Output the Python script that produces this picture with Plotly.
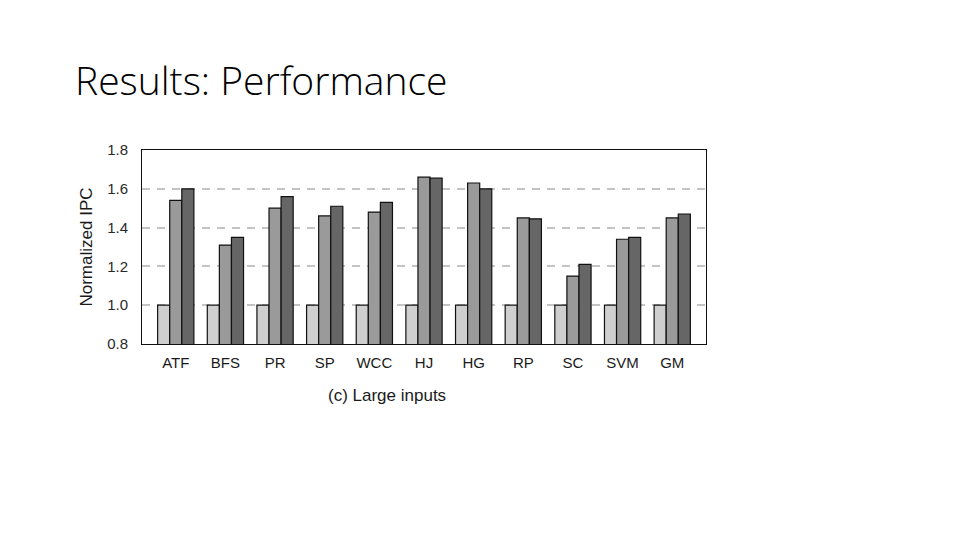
import plotly.graph_objects as go

categories = ["ATF", "BFS", "PR", "SP", "WCC", "HJ", "HG", "RP", "SC", "SVM", "GM"]
baseline = [1.0, 1.0, 1.0, 1.0, 1.0, 1.0, 1.0, 1.0, 1.0, 1.0, 1.0]
config_a = [1.54, 1.31, 1.50, 1.46, 1.48, 1.66, 1.63, 1.45, 1.15, 1.34, 1.45]
config_b = [1.60, 1.35, 1.56, 1.51, 1.53, 1.655, 1.60, 1.445, 1.21, 1.35, 1.47]
y_ticks = [0.8, 1.0, 1.2, 1.4, 1.6, 1.8]

W, H = 960, 540
OFF = 8  # page body margin offset
L, R, T, B = 142 - OFF, 706 - OFF, 150 - OFF, 344 - OFF

fig = go.Figure()
for name, vals, col in [("Baseline", baseline, "#cfcfcf"),
                        ("Config A", config_a, "#9a9a9a"),
                        ("Config B", config_b, "#666666")]:
    fig.add_trace(go.Bar(
        x=categories, y=vals, name=name, base=0,
        marker=dict(color=col, line=dict(color="#111111", width=1.2)),
    ))

fig.update_layout(
    width=W, height=H,
    paper_bgcolor="white", plot_bgcolor="white",
    margin=dict(l=L, r=W - R, t=T, b=H - B, pad=0),
    barmode="group", bargap=0.27, bargroupgap=0,
    showlegend=False,
    font=dict(family="Liberation Sans, Arial, sans-serif", color="#222222", size=14),
)
fig.update_xaxes(
    range=[-0.68, 10.68], showline=True, mirror=True, linecolor="#111111", linewidth=1,
    ticks="", tickfont=dict(size=15, color="#1a1a1a"), ticklabelstandoff=5,
)
fig.update_yaxes(
    range=[0.8, 1.8], tickvals=y_ticks, tickformat=".1f",
    showline=True, mirror=True, linecolor="#111111", linewidth=1,
    showgrid=True, gridcolor="#c4c4c4", gridwidth=2, griddash="8px,7px",
    ticks="", tickfont=dict(size=15, color="#2a2a2a"), ticklabelstandoff=10,
    title=dict(text="Normalized IPC", font=dict(size=17, color="#1a1a1a"), standoff=10),
)

fig.add_annotation(
    xref="paper", yref="paper", x=(387 - OFF - L) / (R - L), y=-(395 - OFF - B) / (B - T),
    text="(c) Large inputs", showarrow=False, xanchor="center", yanchor="middle",
    font=dict(size=17, color="#1a1a1a", family="Liberation Sans, Arial, sans-serif"),
)
fig.add_annotation(
    xref="paper", yref="paper", x=(73 - OFF - L) / (R - L), y=(B - (79 - OFF)) / (B - T),
    text="Results: Performance", showarrow=False, xanchor="left", yanchor="middle",
    font=dict(size=39, color="#000000", family="Open Sans, sans-serif", weight=300),
)

fig.write_html("out.html")
